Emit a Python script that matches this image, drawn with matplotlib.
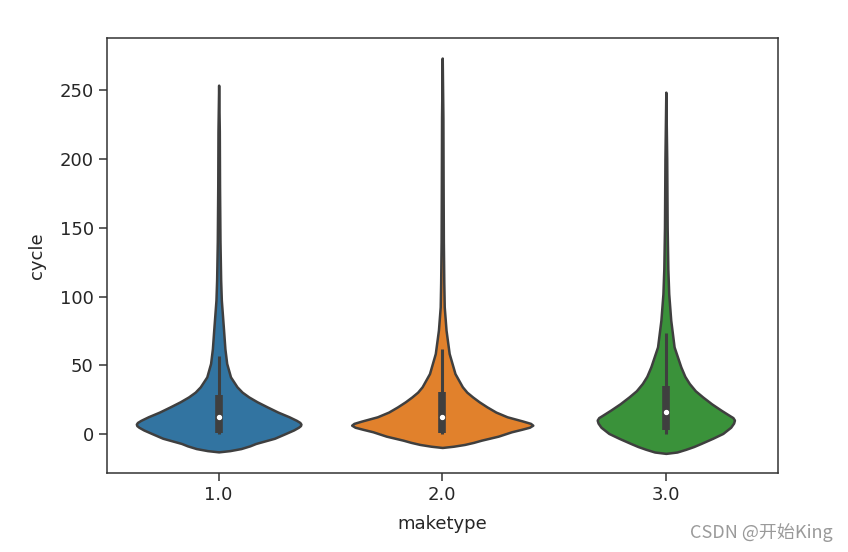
import matplotlib.pyplot as plt

# violin outlines: cycle value and half width of the violin
categorias = ["1.0", "2.0", "3.0"]
colores = ["#3274a1", "#e1812c", "#3a923a"]

y_1 = [-12.9, -12.0, -10.5, -8.5, -6.8, -3.0, 0.5, 3.0, 5.0, 6.2, 7.3, 8.5, 10.0, 12.6, 16.0, 19.8, 23.5, 27.0, 30.5, 34.4, 41.6, 51.4, 62.0, 75.6, 97.4, 112.0, 140.0, 180.0, 220.0, 253.6]
w_1 = [0.0, 0.05, 0.10, 0.14, 0.166, 0.25, 0.30, 0.335, 0.357, 0.366, 0.368, 0.363, 0.348, 0.315, 0.265, 0.217, 0.172, 0.135, 0.105, 0.082, 0.053, 0.036, 0.028, 0.022, 0.012, 0.009, 0.006, 0.004, 0.003, 0.0]

y_2 = [-9.7, -8.8, -7.5, -6.0, -4.4, -1.5, 1.7, 3.5, 5.0, 6.5, 7.8, 9.5, 12.6, 16.0, 19.8, 23.5, 27.0, 30.5, 34.4, 44.0, 58.6, 75.6, 92.5, 110.0, 140.0, 180.0, 230.0, 273.3]
w_2 = [0.0, 0.05, 0.10, 0.14, 0.175, 0.25, 0.31, 0.355, 0.39, 0.405, 0.395, 0.36, 0.29, 0.24, 0.20, 0.165, 0.136, 0.11, 0.09, 0.057, 0.031, 0.017, 0.009, 0.007, 0.005, 0.004, 0.003, 0.0]

y_3 = [-14.0, -13.0, -11.0, -9.0, -6.8, -3.0, 0.5, 5.0, 8.0, 10.2, 12.0, 13.5, 17.4, 22.0, 27.0, 31.5, 36.8, 42.0, 48.9, 63.4, 82.8, 102.0, 120.0, 150.0, 200.0, 248.5]
w_3 = [0.0, 0.05, 0.09, 0.125, 0.157, 0.21, 0.255, 0.29, 0.303, 0.307, 0.300, 0.285, 0.247, 0.205, 0.165, 0.132, 0.105, 0.085, 0.067, 0.037, 0.022, 0.013, 0.009, 0.006, 0.004, 0.0]

# boxplot inside: lower whisker, q1, median, q3, upper whisker
q_bajo = [0.0, 0.0, 0.0]
q1 = [1.0, 0.5, 2.9]
mediana = [12.1, 12.1, 16.2]
q3 = [28.3, 30.7, 34.9]
q_alto = [56.7, 61.5, 73.2]

perfiles = [(y_1, w_1), (y_2, w_2), (y_3, w_3)]

fig = plt.figure(figsize=(8.48, 5.52), dpi=100)
ax = fig.add_axes([0.126, 0.143, 0.791, 0.788])

gris = "#3f3f3f"
for i, (ys, ws) in enumerate(perfiles):
    izq = [i - w for w in ws]
    der = [i + w for w in ws]
    ax.fill_betweenx(ys, izq, der, facecolor=colores[i], edgecolor=gris, linewidth=1.8,
                     joinstyle="round", zorder=2)
    ax.plot([i, i], [q_bajo[i], q_alto[i]], color=gris, linewidth=2.2, solid_capstyle="butt", zorder=3)
    ax.plot([i, i], [q1[i], q3[i]], color=gris, linewidth=5.5, solid_capstyle="butt", zorder=3)
    ax.scatter([i], [mediana[i]], s=8, color="white", zorder=4)

ax.set_xlim(-0.5, 2.5)
ax.set_ylim(-28.3, 287.8)
ax.set_xticks(range(3))
ax.set_xticklabels(categorias)
ax.set_yticks([0, 50, 100, 150, 200, 250])
ax.tick_params(labelsize=13, width=1.1, length=6, color="#333333", labelcolor="#262626")
for s in ax.spines.values():
    s.set_linewidth(1.1)
    s.set_color("#333333")

ax.set_xlabel("maketype", fontsize=13, color="#262626", labelpad=8)
ax.set_ylabel("cycle", fontsize=13, color="#262626", labelpad=10)

fig.text(0.982, 0.036, "CSDN @开始King", ha="right", va="center", fontsize=13,
         color="#9a9a9a", family=["Noto Sans CJK SC", "DejaVu Sans"])

plt.savefig("out.png")
